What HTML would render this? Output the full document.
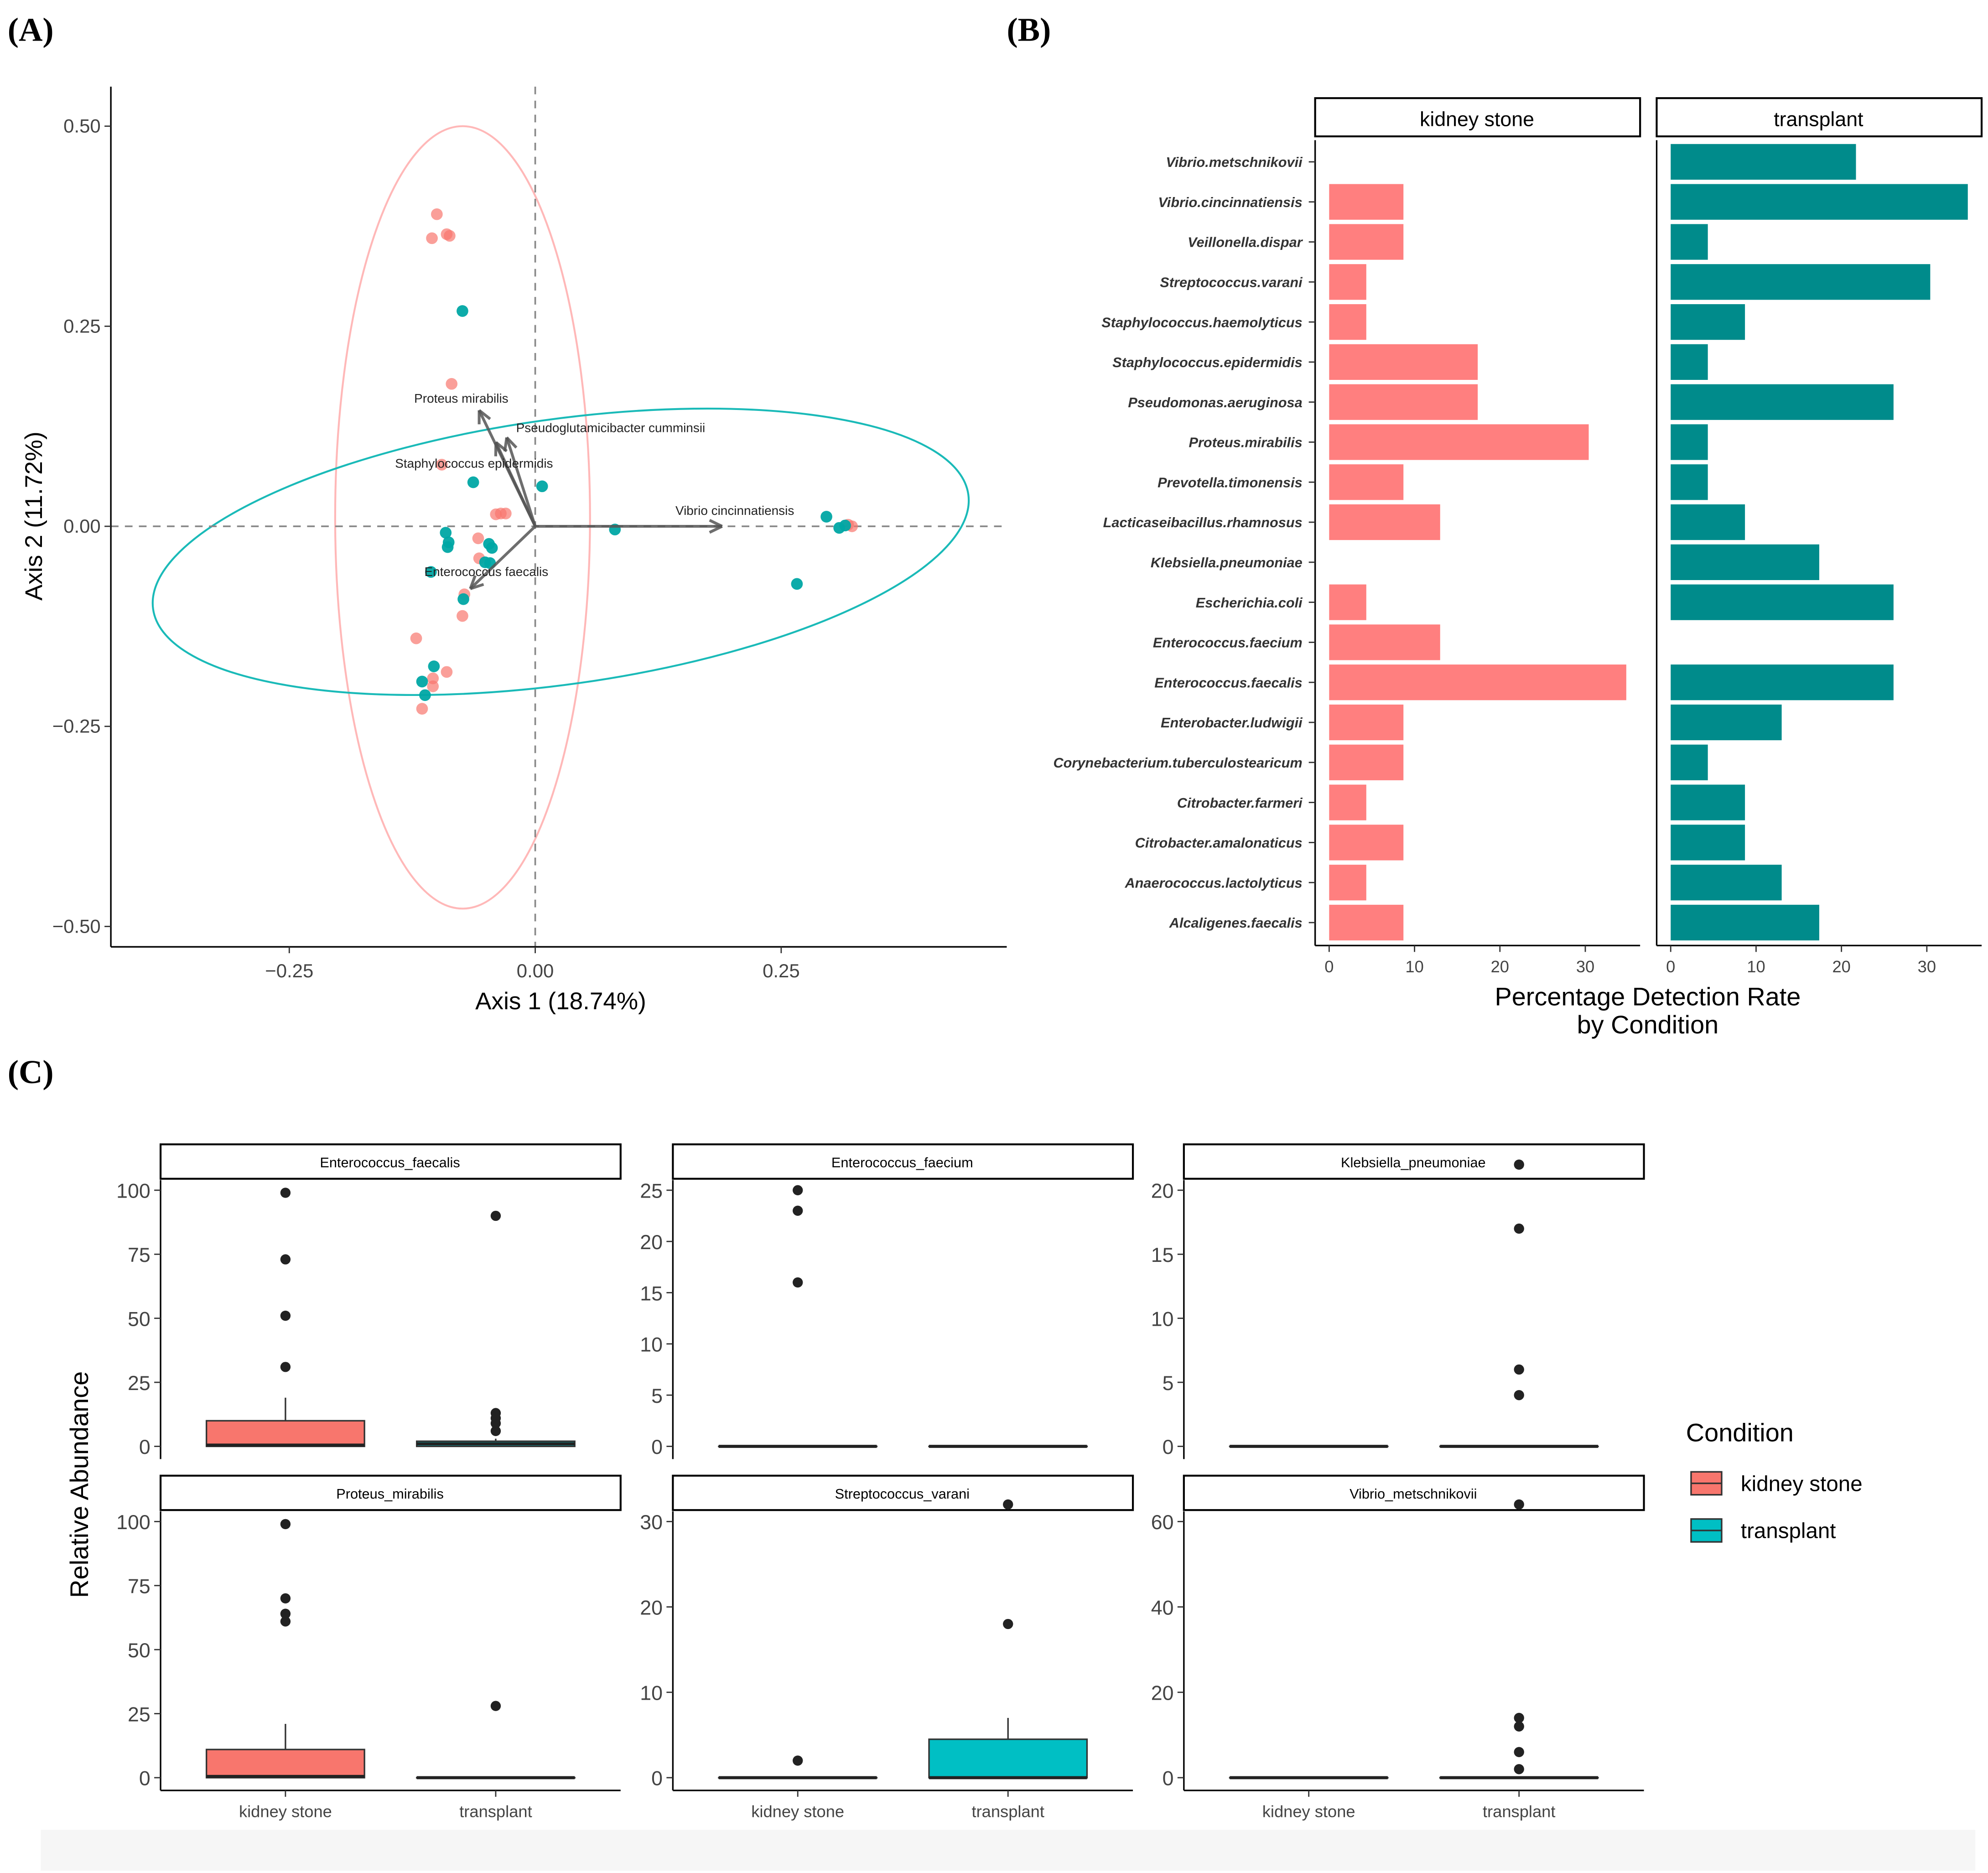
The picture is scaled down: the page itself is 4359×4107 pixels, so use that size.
<!DOCTYPE html>
<html><head><meta charset="utf-8"><style>
html,body{margin:0;padding:0;background:#fff;}
svg, svg text{font-family:"Liberation Sans",Arial,sans-serif;}
</style></head><body>
<svg id="fig" width="4359" height="4102" viewBox="0 0 1560 1468" xmlns="http://www.w3.org/2000/svg" font-family="Liberation Sans, sans-serif">
<rect x="0" y="0" width="1560" height="1468" fill="#fff"/>
<rect x="32" y="1436" width="1518" height="32" fill="#f6f6f6"/>
<text x="6" y="32" style="font-family:'Liberation Serif',serif" font-weight="bold" font-size="26">(A)</text>
<text x="790" y="32" style="font-family:'Liberation Serif',serif" font-weight="bold" font-size="26">(B)</text>
<text x="6" y="850" style="font-family:'Liberation Serif',serif" font-weight="bold" font-size="26">(C)</text>
<g id="pa"></g>
<g id="pb"></g>
<g id="pc"></g>
</svg>
<script>
// ---------- Panel A data ----------
const pinkPts = [[-0.10,0.39],[-0.105,0.36],[-0.09,0.365],[-0.087,0.363],[-0.085,0.178],[-0.095,0.077],[-0.04,0.015],[-0.035,0.016],[-0.03,0.016],[-0.058,-0.015],[-0.057,-0.04],[-0.072,-0.085],[-0.074,-0.112],[-0.121,-0.14],[-0.09,-0.182],[-0.104,-0.19],[-0.104,-0.2],[-0.115,-0.228],[0.322,0.0],[0.318,0.002]];
const tealPts = [[-0.074,0.269],[-0.063,0.055],[0.007,0.05],[-0.091,-0.008],[-0.088,-0.02],[-0.089,-0.026],[-0.047,-0.022],[-0.044,-0.027],[-0.051,-0.045],[-0.046,-0.046],[-0.106,-0.057],[-0.073,-0.091],[0.081,-0.004],[0.296,0.012],[0.309,-0.002],[0.315,0.001],[0.266,-0.072],[-0.103,-0.175],[-0.115,-0.194],[-0.112,-0.211]];
const arrowNames = ["Proteus mirabilis","Pseudoglutamicibacter cumminsii","Staphylococcus epidermidis","Vibrio cincinnatiensis","Enterococcus faecalis"];
const arrowX = [-0.057,-0.029,-0.04,0.19,-0.066];
const arrowY = [0.145,0.111,0.105,0,-0.078];
const aXTicks = [-0.25,0,0.25];
const aXTickLabels = ["\u22120.25","0.00","0.25"];
const aYTicks = [0.5,0.25,0,-0.25,-0.5];
const aYTickLabels = ["0.50","0.25","0.00","\u22120.25","\u22120.50"];

// ---------- Panel B data ----------
const species = ["Vibrio.metschnikovii","Vibrio.cincinnatiensis","Veillonella.dispar","Streptococcus.varani","Staphylococcus.haemolyticus","Staphylococcus.epidermidis","Pseudomonas.aeruginosa","Proteus.mirabilis","Prevotella.timonensis","Lacticaseibacillus.rhamnosus","Klebsiella.pneumoniae","Escherichia.coli","Enterococcus.faecium","Enterococcus.faecalis","Enterobacter.ludwigii","Corynebacterium.tuberculostearicum","Citrobacter.farmeri","Citrobacter.amalonaticus","Anaerococcus.lactolyticus","Alcaligenes.faecalis"];
const kidneyRate = [0,8.7,8.7,4.35,4.35,17.4,17.4,30.4,8.7,13,0,4.35,13,34.8,8.7,8.7,4.35,8.7,4.35,8.7];
const transplantRate = [21.7,34.8,4.35,30.4,8.7,4.35,26.1,4.35,4.35,8.7,17.4,26.1,0,26.1,13,4.35,8.7,8.7,13,17.4];
const bTicks = [0,10,20,30];

// ---------- Panel C data ----------
const facetNames = ["Enterococcus_faecalis","Enterococcus_faecium","Klebsiella_pneumoniae","Proteus_mirabilis","Streptococcus_varani","Vibrio_metschnikovii"];
const facetTicks = [[0,25,50,75,100],[0,5,10,15,20,25],[0,5,10,15,20],[0,25,50,75,100],[0,10,20,30],[0,20,40,60]];
const facetMax = [100,25,20,100,30,60];
const boxStats = [
 [[0,0.5,10,19],[0,1,2,3]],
 [[0,0,0,0],[0,0,0,0]],
 [[0,0,0,0],[0,0,0,0]],
 [[0,0.5,11,21],[0,0,0,0]],
 [[0,0,0,0],[0,0,4.5,7]],
 [[0,0,0,0],[0,0,0,0]]];
const outliers = [
 [[31,51,73,99],[6,9,11,13,90]],
 [[16,23,25],[]],
 [[],[4,6,17,22]],
 [[61,64,70,99],[28]],
 [[2],[18,32]],
 [[],[2,6,12,14,64]]];
const groups = ["kidney stone","transplant"];

const NS="http://www.w3.org/2000/svg";
function mk(tag, attrs, parent, txt){const e=document.createElementNS(NS,tag);for(const k in attrs)e.setAttribute(k,attrs[k]);if(txt!==undefined){e.textContent=txt;e.style.fontFamily="'Liberation Sans', Arial, sans-serif";}parent.appendChild(e);return e;}

// ---------- Panel A ----------
(function(){
 const g=document.getElementById('pa');
 const sx=v=>420+v*772, sy=v=>413-v*628;
 let e;
 e=mk('ellipse',{cx:363,cy:406,rx:100,ry:307,fill:'none',stroke:'#FFB8B8','stroke-width':1.5},g);
 
 
 e=mk('ellipse',{cx:440,cy:433,rx:323,ry:104,fill:'none',stroke:'#1ABAB8','stroke-width':1.5,transform:'rotate(-8 440 433)'},g);
 
 
 mk('line',{x1:sx(0),y1:68,x2:sx(0),y2:743,stroke:'#888','stroke-dasharray':'6,5','stroke-width':1.3},g);
 mk('line',{x1:87,y1:sy(0),x2:790,y2:sy(0),stroke:'#888','stroke-dasharray':'6,5','stroke-width':1.3},g);
 pinkPts.forEach(p=>{const c=mk('circle',{cx:sx(p[0]),cy:sy(p[1]),r:4.6,fill:'#F8766D','fill-opacity':0.7},g);
  
  });
 tealPts.forEach(p=>{const c=mk('circle',{cx:sx(p[0]),cy:sy(p[1]),r:4.6,fill:'#00A6A4','fill-opacity':0.95},g);
  
  });
 const pos=[[325,316],[405,339],[310,367],[530,404],[333,452]];
 arrowNames.forEach((n,i)=>{
  const x2=sx(arrowX[i]),y2=sy(arrowY[i]),x1=sx(0),y1=sy(0);
  const a=mk('line',{x1,y1,x2,y2,stroke:'#555','stroke-width':2.2,'stroke-opacity':0.85},g);
  
  
  const ang=Math.atan2(y2-y1,x2-x1),L=11;
  [0.45,-0.45].forEach(d=>mk('line',{x1:x2,y1:y2,x2:x2-L*Math.cos(ang+d),y2:y2-L*Math.sin(ang+d),stroke:'#555','stroke-width':2.2,'stroke-opacity':0.85},g));
  const t=mk('text',{x:pos[i][0],y:pos[i][1],'font-size':10,fill:'#222'},g,n);
  
  
 });
 mk('line',{x1:87,y1:68,x2:87,y2:743,stroke:'#000','stroke-width':1.2},g);
 mk('line',{x1:87,y1:743,x2:790,y2:743,stroke:'#000','stroke-width':1.2},g);
 aXTicks.forEach((v,i)=>{mk('line',{x1:sx(v),y1:743,x2:sx(v),y2:748,stroke:'#333'},g);
  mk('text',{x:sx(v),y:767,'font-size':15,fill:'#444','text-anchor':'middle'},g,aXTickLabels[i]);});
 aYTicks.forEach((v,i)=>{mk('line',{x1:82,y1:sy(v),x2:87,y2:sy(v),stroke:'#333'},g);
  mk('text',{x:79,y:sy(v)+5,'font-size':15,fill:'#444','text-anchor':'end'},g,aYTickLabels[i]);});
 let t=mk('text',{x:440,y:792,'font-size':19,'text-anchor':'middle'},g,'Axis 1 (18.74%)');
 
 t=mk('text',{x:33,y:405,'font-size':19,'text-anchor':'middle',transform:'rotate(-90 33 405)'},g,'Axis 2 (11.72%)');
 
})();

// ---------- Panel B ----------
(function(){
 const g=document.getElementById('pb');
 const rowY=i=>127+i*31.42;
 const panels=[{l:1032,z:1043,name:'kidney stone',vals:kidneyRate,col:'#FF7F7F'},{l:1300,z:1311,name:'transplant',vals:transplantRate,col:'#008B8B'}];
 const k=6.7;
 panels.forEach(p=>{
  const s=mk('rect',{x:p.l,y:77,width:255,height:30,fill:'#fff',stroke:'#000','stroke-width':1.5},g);
  
  mk('text',{x:p.l+127,y:99,'font-size':16,'text-anchor':'middle'},g,p.name);
  p.vals.forEach((v,i)=>{if(v<=0)return;
   const r=mk('rect',{x:p.z,y:rowY(i)-14,width:v*k,height:28,fill:p.col},g);
   
   });
  mk('line',{x1:p.l,y1:110,x2:p.l,y2:742,stroke:'#000','stroke-width':1.2},g);
  mk('line',{x1:p.l,y1:742,x2:p.l+255,y2:742,stroke:'#000','stroke-width':1.2},g);
  bTicks.forEach(v=>{mk('line',{x1:p.z+v*k,y1:742,x2:p.z+v*k,y2:747,stroke:'#333'},g);
   mk('text',{x:p.z+v*k,y:763,'font-size':13,fill:'#444','text-anchor':'middle'},g,String(v));});
 });
 species.forEach((s,i)=>{mk('line',{x1:1027,y1:rowY(i),x2:1032,y2:rowY(i),stroke:'#333'},g);
  const t=mk('text',{x:1022,y:rowY(i)+4,'font-size':11,'font-style':'italic','font-weight':'bold',fill:'#333','text-anchor':'end'},g,s);
  });
 let t=mk('text',{x:1293,y:789,'font-size':20,'text-anchor':'middle'},g,'Percentage Detection Rate');
 
 mk('text',{x:1293,y:811,'font-size':20,'text-anchor':'middle'},g,'by Condition');
})();

// ---------- Panel C ----------
(function(){
 const g=document.getElementById('pc');
 const colL=[126,528,929], rowTop=[898,1158];
 const cols=['#F8766D','#00BFC4'];
 facetNames.forEach((n,f)=>{
  const c=f%3,r=Math.floor(f/3),L=colL[c],T=rowTop[r];
  const y0=T+237, yTop=T+36, sc=v=>y0-(v/facetMax[f])*(y0-yTop);
  const s=mk('rect',{x:L,y:T,width:361,height:27,fill:'#fff',stroke:'#000','stroke-width':1.5},g);
  
  mk('text',{x:L+180,y:T+18,'font-size':11,'text-anchor':'middle'},g,n);
  mk('line',{x1:L,y1:T+28,x2:L,y2:T+247,stroke:'#000','stroke-width':1.2},g);
  if(r==1){mk('line',{x1:L,y1:T+247,x2:L+361,y2:T+247,stroke:'#000','stroke-width':1.2},g);
   groups.forEach((gn,j)=>{const x=L+98+j*165;mk('line',{x1:x,y1:T+247,x2:x,y2:T+252,stroke:'#333'},g);
    mk('text',{x,y:T+268,'font-size':13,fill:'#444','text-anchor':'middle'},g,gn);});}
  facetTicks[f].forEach(v=>{mk('line',{x1:L-5,y1:sc(v),x2:L,y2:sc(v),stroke:'#333'},g);
   mk('text',{x:L-8,y:sc(v)+6,'font-size':16,fill:'#444','text-anchor':'end'},g,String(v));});
  groups.forEach((gn,j)=>{
   const x=L+98+j*165, st=boxStats[f][j];
   if(st[3]>st[2]) mk('line',{x1:x,y1:sc(st[2]),x2:x,y2:sc(st[3]),stroke:'#333','stroke-width':1.2},g);
   const b=mk('rect',{x:x-62,y:sc(st[2]),width:124,height:Math.max(sc(st[0])-sc(st[2]),0.1),fill:cols[j],stroke:'#333','stroke-width':1.2},g);
   
   mk('line',{x1:x-62,y1:sc(st[1]),x2:x+62,y2:sc(st[1]),stroke:'#222','stroke-width':2.4},g);
   outliers[f][j].forEach(v=>{const o=mk('circle',{cx:x,cy:sc(v),r:4,fill:'#222'},g);
    });
  });
 });
 let t=mk('text',{x:69,y:1165,'font-size':20,'text-anchor':'middle',transform:'rotate(-90 69 1165)'},g,'Relative Abundance');
 
 t=mk('text',{x:1323,y:1131,'font-size':20},g,'Condition');
 
 groups.forEach((gn,j)=>{const y=1155+j*37;
  const r=mk('rect',{x:1327,y,width:24,height:18,fill:cols[j],stroke:'#333','stroke-width':1.2},g);
  
  mk('line',{x1:1327,y1:y+9,x2:1351,y2:y+9,stroke:'#333','stroke-width':1.2},g);
  const tt=mk('text',{x:1366,y:y+15,'font-size':17},g,gn);
  });
})();
</script>
</body></html>
